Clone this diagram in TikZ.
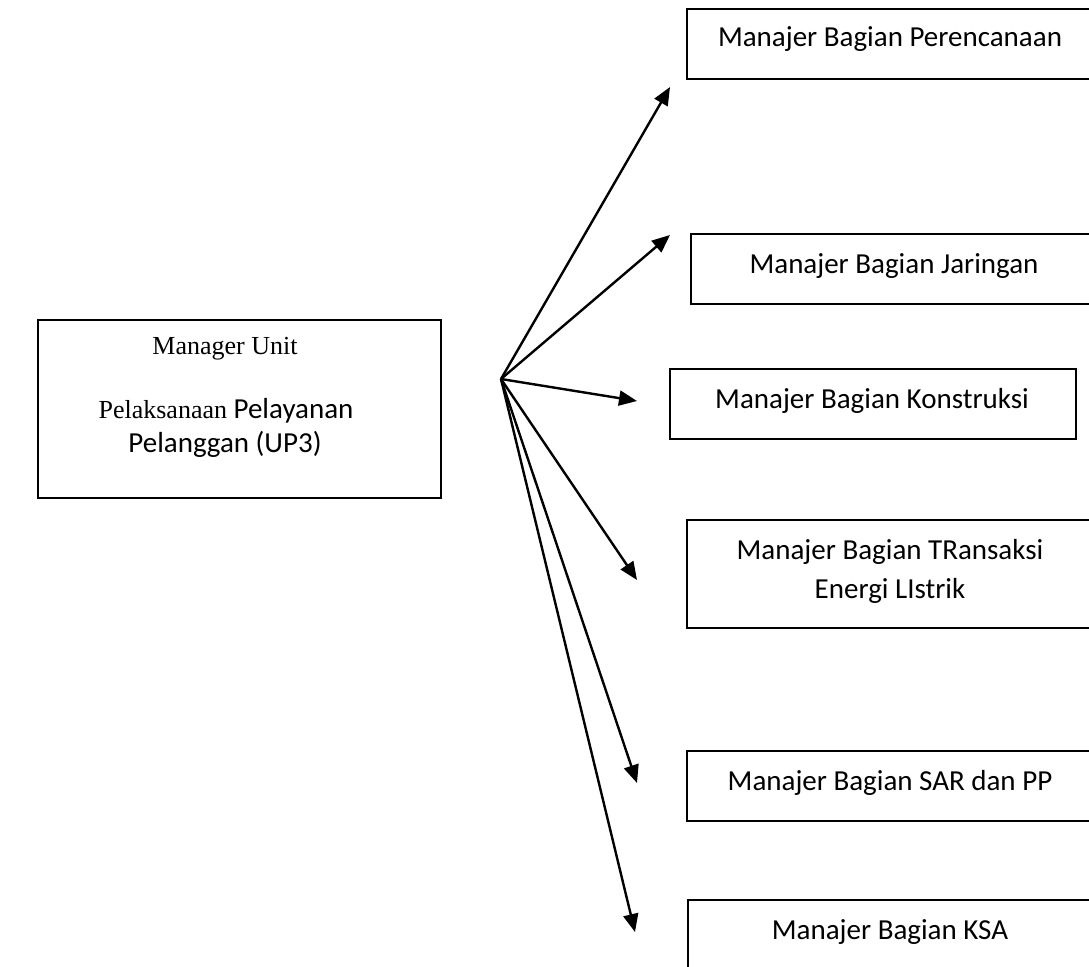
\documentclass[tikz,border=0pt]{standalone}
\usepackage{fontspec}
\setmainfont{Carlito}
\newfontfamily\timesf{Liberation Serif}
\usetikzlibrary{arrows.meta}
\begin{document}
\begin{tikzpicture}[x=1pt,y=-1pt,
  boxst/.style={draw=black, line width=1.6pt, inner sep=0pt, rectangle},
  lbl/.style={anchor=base, inner sep=0pt, font=\fontsize{29}{35}\selectfont},
  tlbl/.style={anchor=base, inner sep=0pt, font=\timesf\fontsize{26}{31}\selectfont},
  arr/.style={line width=2.4pt, -{Triangle[length=18pt,width=15pt]}}]
\clip (0,0) rectangle (1089,966);
\fill[white] (0,0) rectangle (1089,966);
% boxes
\node[boxst, minimum width=403pt, minimum height=178pt] (b0) at (239.5,409) {};
\node[boxst, minimum width=408pt, minimum height=70pt] (b1) at (891,44) {};
\node[boxst, minimum width=404pt, minimum height=70pt] (b2) at (893,269) {};
\node[boxst, minimum width=406pt, minimum height=70pt] (b3) at (873,404) {};
\node[boxst, minimum width=408pt, minimum height=108pt] (b4) at (891,574) {};
\node[boxst, minimum width=408pt, minimum height=70pt] (b5) at (891,786) {};
\node[boxst, minimum width=407pt, minimum height=70pt] (b6) at (891.5,935) {};
% texts
\node[tlbl] (t0a) at (225,354) {Manager Unit};
\node[lbl] (t0b) at (226,418) {{\timesf\fontsize{26}{31}\selectfont Pelaksanaan} Pelayanan};
\node[lbl] (t0c) at (225,452) {Pelanggan (UP3)};
\node[lbl] (t1) at (890,47) {Manajer Bagian Perencanaan};
\node[lbl] (t2) at (894,273) {Manajer Bagian Jaringan};
\node[lbl] (t3) at (872,408) {Manajer Bagian Konstruksi};
\node[lbl] (t4a) at (890,559) {Manajer Bagian TRansaksi};
\node[lbl] (t4b) at (890,598) {Energi LIstrik};
\node[lbl] (t5) at (890,790) {Manajer Bagian SAR dan PP};
\node[lbl] (t6) at (890,939) {Manajer Bagian KSA};
% connectors
\coordinate (hub) at (501,379);
\coordinate (e1) at (670,87);
\coordinate (e2) at (670,235);
\coordinate (e3) at (637,401);
\coordinate (e4) at (637,580);
\coordinate (e5) at (637,783);
\coordinate (e6) at (635,932);
\foreach \e in {e1,e2,e3,e4,e5,e6} \draw[arr] (hub) -- (\e);
\end{tikzpicture}
\end{document}
